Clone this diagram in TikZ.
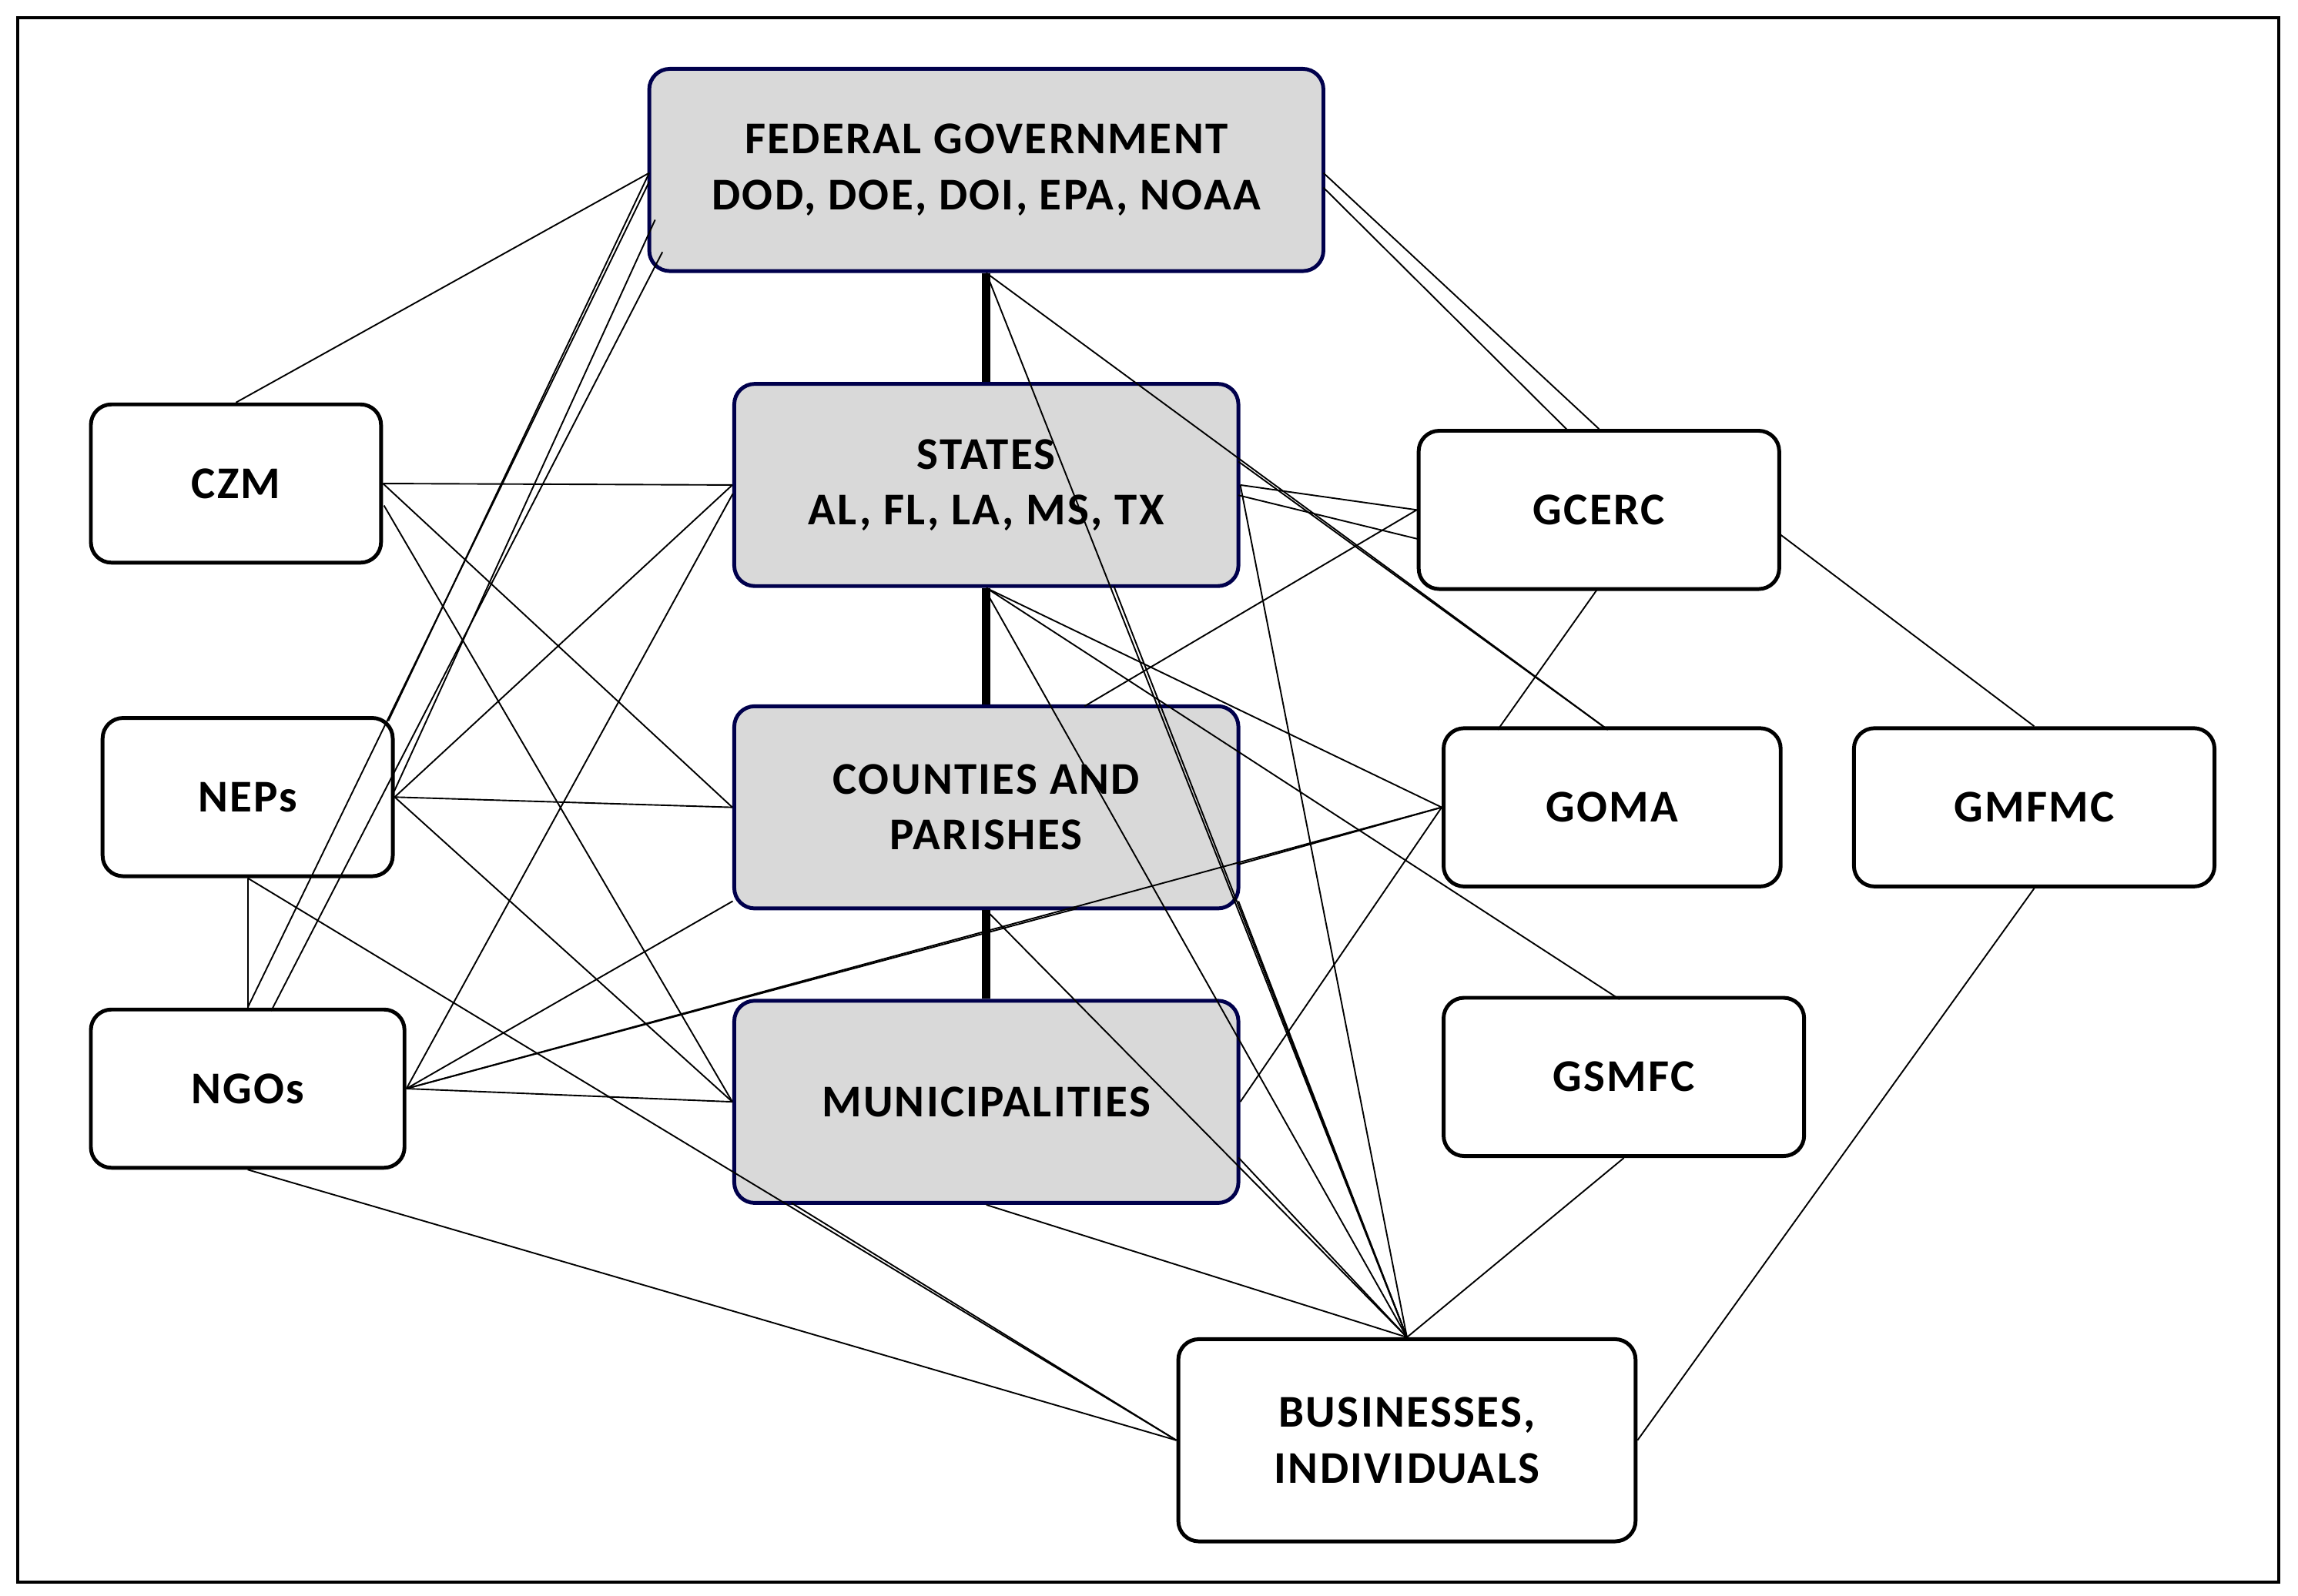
\documentclass[tikz,border=0pt]{standalone}
\usepackage{fontspec}
\setmainfont{Carlito}[LetterSpace=4]
\begin{document}
\begin{tikzpicture}[x=0.5pt,y=-0.5pt,
 box/.style={draw,line width=1.3pt,rounded corners=7pt,align=center,font=\fontsize{15.5}{19}\selectfont\bfseries,inner sep=0pt},
 gov/.style={box,fill=gray!30,draw=black!70!blue},
 ln/.style={line width=0.5pt},
 thick/.style={line width=3pt}]
\useasboundingbox (0,0) rectangle (1568,1089);
\draw[line width=1pt] (12,12) rectangle (1555,1080);
\node[gov,minimum width=230pt,minimum height=69pt] (fed) at (673,116) {FEDERAL GOVERNMENT\\DOD, DOE, DOI, EPA, NOAA};
\node[gov,minimum width=172pt,minimum height=69pt] (st) at (673,331) {STATES\\AL, FL, LA, MS, TX};
\node[gov,minimum width=172pt,minimum height=69pt] (co) at (673,551) {COUNTIES AND\\PARISHES};
\node[gov,minimum width=172pt,minimum height=69pt] (mu) at (673,752) {MUNICIPALITIES};
\node[box,minimum width=99pt,minimum height=54pt] (czm) at (161,330) {CZM};
\node[box,minimum width=99pt,minimum height=54pt] (nep) at (169,544) {NEPs};
\node[box,minimum width=107pt,minimum height=54pt] (ngo) at (169,743) {NGOs};
\node[box,minimum width=123pt,minimum height=54pt] (gce) at (1091,348) {GCERC};
\node[box,minimum width=115pt,minimum height=54pt] (gom) at (1100,551) {GOMA};
\node[box,minimum width=123pt,minimum height=54pt] (gmf) at (1388,551) {GMFMC};
\node[box,minimum width=123pt,minimum height=54pt] (gsm) at (1108,735) {GSMFC};
\node[box,minimum width=156pt,minimum height=69pt] (bus) at (960,983) {BUSINESSES,\\INDIVIDUALS};
\draw[thick] (fed.south) -- (st.north);
\draw[thick] (st.south) -- (co.north);
\draw[thick] (co.south) -- (mu.north);
\begin{scope}[ln]
\coordinate (f1) at (443,118);
\coordinate (f2) at (443,124);
\coordinate (f3) at (447,150);
\coordinate (f4) at (452,172);
\draw (f1) -- (czm.north);
\draw (f1) -- (265,492);
\draw (f3) -- (269,540);
\draw (f2) -- (ngo.north);
\draw (f4) -- (185,690);
\draw (903,118) -- (gce.north);
\draw (903,128) -- (1070,294);
\draw (fed.south) -- (1097,498);
\draw (fed.south) -- (bus.north);
\draw (czm.east) -- (st.west);
\draw (czm.east) -- (co.west);
\draw (262,345) -- (mu.west);
\draw (st.west) -- (nep.east);
\draw (500,337) -- (ngo.east);
\draw (st.east) -- (gce.west);
\draw (845,338) -- (968,368);
\draw (845,315) -- (1097,498);
\draw (st.east) -- (bus.north);
\draw (760,400) -- (bus.north);
\draw (st.south) -- (gom.west);
\draw (st.south) -- (1105,682);
\draw (673,404) -- (bus.north);
\draw (740,482) -- (gce.west);
\draw (co.west) -- (nep.east);
\draw (500,615) -- (ngo.east);
\draw (845,590) -- (gom.west);
\draw (845,615) -- (bus.north);
\draw (co.south) -- (bus.north);
\draw (mu.west) -- (ngo.east);
\draw (mu.west) -- (nep.east);
\draw (mu.east) -- (gom.west);
\draw (845,790) -- (bus.north);
\draw (mu.south) -- (bus.north);
\draw (540,821) -- (bus.west);
\draw (nep.south) -- (ngo.north);
\draw (nep.south) -- (bus.west);
\draw (ngo.east) -- (735,620);
\draw (ngo.east) -- (gom.west);
\draw (ngo.south) -- (bus.west);
\draw (1090,402) -- (1022,498);
\draw (1215,365) -- (gmf.north);
\draw (gsm.south) -- (bus.north);
\draw (gmf.south) -- (bus.east);
\end{scope}
\end{tikzpicture}
\end{document}
